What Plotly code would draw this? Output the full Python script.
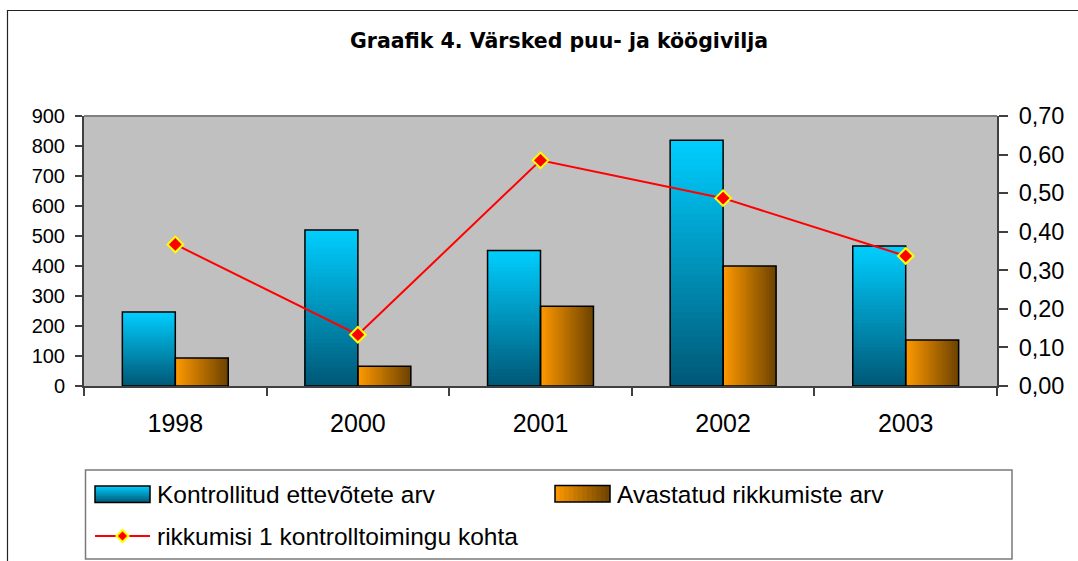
import plotly.graph_objects as go

# ---- data ----
years = ["1998", "2000", "2001", "2002", "2003"]
kontrollitud = [247, 520, 452, 819, 467]
avastatud = [93, 66, 266, 400, 153]
suhe = [0.367, 0.133, 0.585, 0.487, 0.337]

name_k = "Kontrollitud ettevõtete arv"
name_a = "Avastatud rikkumiste arv"
name_s = "rikkumisi 1 kontrolltoimingu kohta"
title_text = "Graafik 4. Värsked puu- ja köögivilja"

# ---- layout geometry ----
W, H = 1078, 561
ML, MR, MT, MB = 84, 81, 116, 175
PW, PH = W - ML - MR, H - MT - MB


def px(x):
    return (x - ML) / PW


def py(y):
    return (MT + PH - y) / PH


def lerp(c1, c2, t):
    return "rgb(%d,%d,%d)" % tuple(round(a + (b - a) * t) for a, b in zip(c1, c2))


CYAN_TOP = (0, 206, 255)
CYAN_BOT = (0, 88, 118)
OR_LEFT = (255, 153, 0)
OR_RIGHT = (108, 66, 0)

BW = 0.29
fig = go.Figure()

# cyan bars: vertical gradient via overlapping bars of decreasing height
NV = 40
for i in range(NV):
    frac = 1 - i / NV
    t = 1 - (i + 0.5) / NV
    fig.add_trace(go.Bar(
        x=years, y=[v * frac for v in kontrollitud],
        width=BW, offset=-BW, marker=dict(color=lerp(CYAN_BOT, CYAN_TOP, t), line=dict(width=0)),
        showlegend=False, hoverinfo="skip"))

# orange bars: horizontal gradient via overlapping bars that start further right
NH = 24
for i in range(NH):
    t = (i + 0.5) / NH
    fig.add_trace(go.Bar(
        x=years, y=avastatud, width=BW * (1 - i / NH), offset=BW * i / NH,
        marker=dict(color=lerp(OR_LEFT, OR_RIGHT, t), line=dict(width=0)),
        showlegend=False, hoverinfo="skip"))

# outlines
fig.add_trace(go.Bar(x=years, y=kontrollitud, width=BW, offset=-BW, name=name_k,
                     marker=dict(color="rgba(0,0,0,0)", line=dict(color="black", width=1.5)),
                     showlegend=False))
fig.add_trace(go.Bar(x=years, y=avastatud, width=BW, offset=0, name=name_a,
                     marker=dict(color="rgba(0,0,0,0)", line=dict(color="black", width=1.5)),
                     showlegend=False))

# ratio line
fig.add_trace(go.Scatter(x=years, y=suhe, yaxis="y2", mode="lines+markers", name=name_s,
                         line=dict(color="#FF0000", width=2),
                         marker=dict(symbol="diamond", size=12, color="#FF0000",
                                     line=dict(color="#FFFF00", width=2)),
                         showlegend=False))

shapes = []
# outer chart border
shapes.append(dict(type="rect", xref="paper", yref="paper", x0=px(7.5), x1=px(1100), y0=py(10.5), y1=py(600),
                   line=dict(color="#222222", width=1.2), fillcolor="rgba(0,0,0,0)", layer="below"))
# plot area border top
shapes.append(dict(type="line", xref="paper", yref="paper", x0=0, x1=1, y0=1, y1=1,
                   line=dict(color="#808080", width=2)))

# legend box
shapes.append(dict(type="rect", xref="paper", yref="paper", x0=px(85.5), x1=px(1012), y0=py(470), y1=py(559),
                   line=dict(color="#7a7a7a", width=1.5), fillcolor="white"))

# legend swatch cyan (vertical gradient)
sx0, sx1, sy0, sy1 = 95, 150, 486, 502.5
n = 10
for i in range(n):
    ya = sy1
    yb = sy1 - (sy1 - sy0) * (n - i) / n
    shapes.append(dict(type="rect", xref="paper", yref="paper", x0=px(sx0), x1=px(sx1), y0=py(ya), y1=py(yb),
                       line=dict(width=0), fillcolor=lerp(CYAN_BOT, CYAN_TOP, 1 - (i + 0.5) / n)))
shapes.append(dict(type="rect", xref="paper", yref="paper", x0=px(sx0), x1=px(sx1), y0=py(sy0), y1=py(sy1),
                   line=dict(color="black", width=1.5)))
# legend swatch orange (horizontal gradient)
ox0, ox1, oy0, oy1 = 555, 610, 485.5, 502
n = 12
for i in range(n):
    xa = ox0 + (ox1 - ox0) * i / n
    shapes.append(dict(type="rect", xref="paper", yref="paper", x0=px(xa), x1=px(ox1), y0=py(oy0), y1=py(oy1),
                       line=dict(width=0), fillcolor=lerp(OR_LEFT, OR_RIGHT, (i + 0.5) / n)))
shapes.append(dict(type="rect", xref="paper", yref="paper", x0=px(ox0), x1=px(ox1), y0=py(oy0), y1=py(oy1),
                   line=dict(color="black", width=1.5)))
# legend line sample
ly = 536
shapes.append(dict(type="line", xref="paper", yref="paper", x0=px(95), x1=px(150), y0=py(ly), y1=py(ly),
                   line=dict(color="#FF0000", width=2)))
cx, d = 122.5, 6
path = "M %f %f L %f %f L %f %f L %f %f Z" % (px(cx - d), py(ly), px(cx), py(ly - d),
                                              px(cx + d), py(ly), px(cx), py(ly + d))
shapes.append(dict(type="path", xref="paper", yref="paper", path=path, fillcolor="#FF0000",
                   line=dict(color="#FFFF00", width=2)))

font = "Liberation Sans, Arial, sans-serif"
annotations = [
    dict(text="<b>" + title_text + "</b>", xref="paper", yref="paper", x=px(348), y=py(41),
         xanchor="left", yanchor="middle", showarrow=False,
         font=dict(family="DejaVu Sans, sans-serif", size=20.5, color="black")),
    dict(text=name_k, xref="paper", yref="paper", x=px(155), y=py(494), xanchor="left", yanchor="middle",
         showarrow=False, font=dict(family=font, size=24.5, color="black")),
    dict(text=name_a, xref="paper", yref="paper", x=px(615), y=py(494), xanchor="left", yanchor="middle",
         showarrow=False, font=dict(family=font, size=24.5, color="black")),
    dict(text=name_s, xref="paper", yref="paper", x=px(155), y=py(536), xanchor="left", yanchor="middle",
         showarrow=False, font=dict(family=font, size=24.5, color="black")),
]

fig.update_layout(
    width=W, height=H,
    margin=dict(l=ML, r=MR, t=MT, b=MB, pad=0),
    paper_bgcolor="white", plot_bgcolor="#C0C0C0",
    barmode="overlay", showlegend=False,
    separators=", ",
    font=dict(family=font, color="black"),
    xaxis=dict(type="category", tickson="boundaries", ticks="outside", ticklen=8, tickcolor="#404040",
               tickwidth=1.5, showline=True, linecolor="#404040", linewidth=2, showgrid=False,
               tickfont=dict(size=25), range=[-0.5, 4.5], fixedrange=True, ticklabelstandoff=14),
    yaxis=dict(range=[0, 900], dtick=100, ticks="outside", ticklen=7, tickcolor="#404040", tickwidth=1.5,
               showline=True, linecolor="#404040", linewidth=2, showgrid=False, zeroline=False,
               tickfont=dict(size=20), ticklabelstandoff=6),
    yaxis2=dict(range=[0, 0.7], dtick=0.1, tickformat=".2f", overlaying="y", side="right",
                ticks="outside", ticklen=9, tickcolor="#404040", tickwidth=1.5,
                showline=True, linecolor="#404040", linewidth=2, showgrid=False, zeroline=False,
                tickfont=dict(size=23.5), ticklabelstandoff=6),
    shapes=shapes, annotations=annotations,
)

fig.write_html("out.html", config={"displayModeBar": False},
               post_script="document.body.style.margin='0';")
